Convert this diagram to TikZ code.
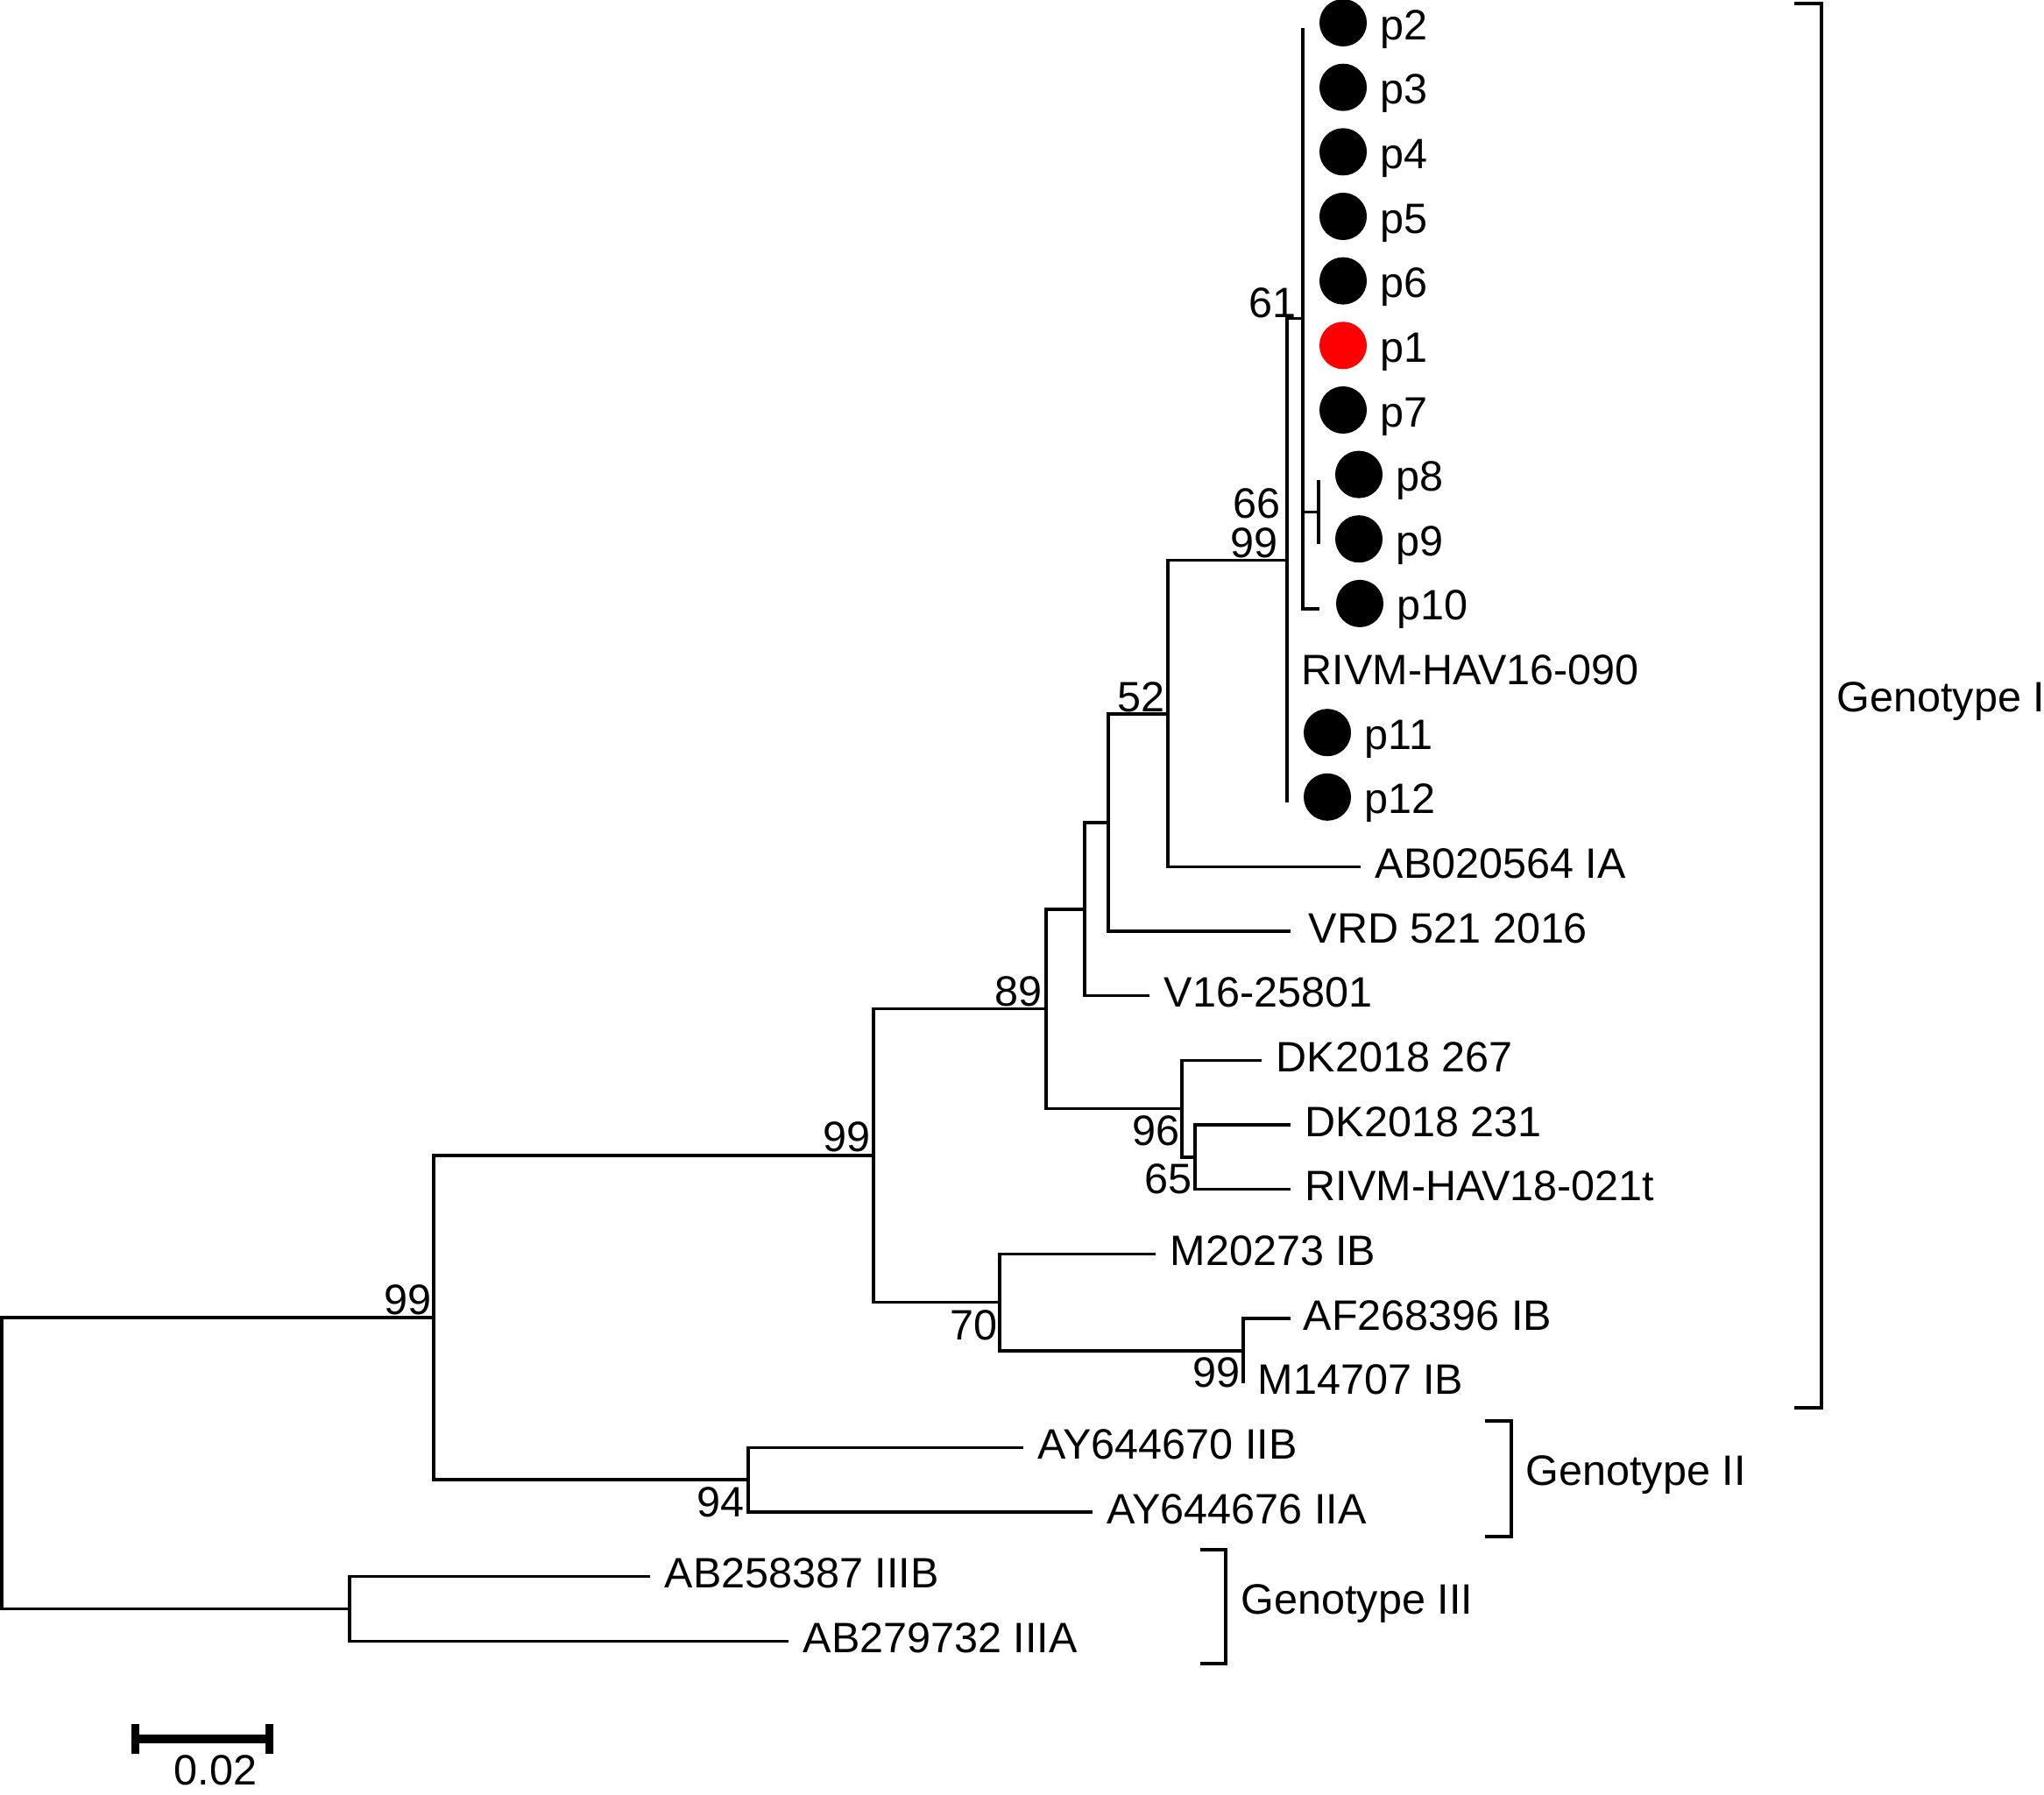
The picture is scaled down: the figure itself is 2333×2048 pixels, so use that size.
\documentclass[tikz,border=0pt]{standalone}
\usepackage{fontspec}
\setmainfont{Liberation Sans}

\tikzset{
  branch/.style={line width=0.95pt},
  tiplab/.style={anchor=base west, inner sep=0pt},
  boot/.style={anchor=base east, inner sep=0pt},
  pdot/.style={circle, fill=black, inner sep=0pt, minimum size=0.54cm},
}

\begin{document}
\begin{tikzpicture}[x=0.01cm, y=-0.01cm, font=\fontsize{13.8}{16}\selectfont]
    \useasboundingbox (0,0) rectangle (2333,2048);

    % tips, one row each
    \coordinate (p2) at (1487,32);
    \coordinate (p3) at (1487,105.7);
    \coordinate (p4) at (1487,179.3);
    \coordinate (p5) at (1487,253);
    \coordinate (p6) at (1487,326.6);
    \coordinate (p1) at (1487,400.3);
    \coordinate (p7) at (1487,474);
    \coordinate (p8) at (1505,547.6);
    \coordinate (p9) at (1505,621.2);
    \coordinate (p10) at (1506,694.9);
    \coordinate (rivmA) at (1469,768.5);
    \coordinate (p11) at (1469,842.2);
    \coordinate (p12) at (1469,915.8);
    \coordinate (ab020564) at (1553,989.5);
    \coordinate (vrd) at (1473,1063);
    \coordinate (v16) at (1312,1136.8);
    \coordinate (dk267) at (1440,1210.4);
    \coordinate (dk231) at (1473,1284);
    \coordinate (rivmB) at (1473,1357.7);
    \coordinate (m20273) at (1319,1431.4);
    \coordinate (af268396) at (1473,1505);
    \coordinate (m14707) at (1419,1578.7);
    \coordinate (ay670) at (1168,1652.3);
    \coordinate (ay676) at (1247,1726);
    \coordinate (ab258) at (742,1799.6);
    \coordinate (ab279) at (900,1873.3);

    % inner nodes
    \coordinate (n66) at (1505,584.4);
    \coordinate (n61) at (1487,363.5);
    \coordinate (nH) at (1469,639.6);
    \coordinate (nG) at (1333,815);
    \coordinate (nF) at (1265,939);
    \coordinate (nE) at (1238,1038);
    \coordinate (nJ) at (1364,1321);
    \coordinate (nI) at (1349,1265.6);
    \coordinate (nB) at (1194,1151.8);
    \coordinate (nD) at (1419,1541.9);
    \coordinate (nC) at (1141,1486.6);
    \coordinate (nGI) at (997,1319);
    \coordinate (nGII) at (854,1689);
    \coordinate (nA) at (495,1504);
    \coordinate (nGIII) at (399,1836.5);
    \coordinate (root) at (2,1670);

    % branches
    \foreach \a/\b in {root/nA, root/nGIII, nA/nGI, nA/nGII, nGIII/ab258, nGIII/ab279,
                       nGII/ay670, nGII/ay676, nGI/nB, nGI/nC, nC/m20273, nC/nD,
                       nD/af268396, nD/m14707, nB/nE, nB/nI, nI/dk267, nI/nJ,
                       nJ/dk231, nJ/rivmB, nE/nF, nE/v16, nF/nG, nF/vrd,
                       nG/nH, nG/ab020564, nH/n61, nH/rivmA, nH/p11, nH/p12,
                       n61/p2, n61/p3, n61/p4, n61/p5, n61/p6, n61/p1, n61/p7,
                       n61/n66, n61/p10, n66/p8, n66/p9}
        \draw[branch] (\a) |- (\b);

    % patient dots
    \foreach \p in {p2,p3,p4,p5,p6,p7,p8,p9,p10,p11,p12} {
        \node[pdot] (d\p) at ([shift={(46,-6)}]\p) {};
        \node[tiplab] (l\p) at ([shift={(88,13)}]\p) {\p};
    }
    \node[pdot, fill=red] (dp1) at ([shift={(46,-6)}]p1) {};
    \node[tiplab] (lp1) at ([shift={(88,13)}]p1) {p1};

    % other tip labels
    \node[tiplab] (lrivmA) at ([shift={(16,13)}]rivmA) {RIVM-HAV16-090};
    \node[tiplab] (lab020564) at ([shift={(16,13)}]ab020564) {AB020564 IA};
    \node[tiplab] (lvrd) at ([shift={(20,13)}]vrd) {VRD 521 2016};
    \node[tiplab] (lv16) at ([shift={(16,13)}]v16) {V16-25801};
    \node[tiplab] (ldk267) at ([shift={(16,13)}]dk267) {DK2018 267};
    \node[tiplab] (ldk231) at ([shift={(16,13)}]dk231) {DK2018 231};
    \node[tiplab] (lrivmB) at ([shift={(16,13)}]rivmB) {RIVM-HAV18-021t};
    \node[tiplab] (lm20273) at ([shift={(16,13)}]m20273) {M20273 IB};
    \node[tiplab] (laf268396) at ([shift={(14,13)}]af268396) {AF268396 IB};
    \node[tiplab] (lm14707) at ([shift={(16,13)}]m14707) {M14707 IB};
    \node[tiplab] (lay670) at ([shift={(16,13)}]ay670) {AY644670 IIB};
    \node[tiplab] (lay676) at ([shift={(16,13)}]ay676) {AY644676 IIA};
    \node[tiplab] (lab258) at ([shift={(16,13)}]ab258) {AB258387 IIIB};
    \node[tiplab] (lab279) at ([shift={(16,13)}]ab279) {AB279732 IIIA};

    % bootstrap values
    \node[boot] (b61) at (1480,362) {61};
    \node[boot] (b66) at (1462,591) {66};
    \node[boot] (bH) at (1459,636) {99};
    \node[boot] (bG) at (1330,812) {52};
    \node[boot] (bB) at (1190,1148) {89};
    \node[boot] (bGI) at (994,1314) {99};
    \node[boot] (bA) at (493,1500) {99};
    \node[boot] (bI) at (1347,1307) {96};
    \node[boot] (bJ) at (1361,1362) {65};
    \node[boot] (bC) at (1139,1529) {70};
    \node[boot] (bD) at (1416,1583) {99};
    \node[boot] (bGII) at (850,1731) {94};

    % genotype brackets
    \draw[branch] (2048,4) -- (2079,4) -- (2079,1607) -- (2048,1607);
    \node[tiplab] (gI) at (2096,812) {Genotype I};
    \draw[branch] (1695,1622) -- (1725,1622) -- (1725,1754) -- (1695,1754);
    \node[tiplab] (gII) at (1741,1695) {Genotype II};
    \draw[branch] (1370,1769) -- (1399,1769) -- (1399,1899) -- (1370,1899);
    \node[tiplab] (gIII) at (1416,1842) {Genotype III};

    % scale bar
    \fill (150,1980) rectangle (312,1990);
    \fill (150,1968) rectangle (159,2002);
    \fill (303,1968) rectangle (312,2002);
    \node[anchor=base, inner sep=0pt] (sbar) at (246,2037) {0.02};
\end{tikzpicture}
\end{document}
